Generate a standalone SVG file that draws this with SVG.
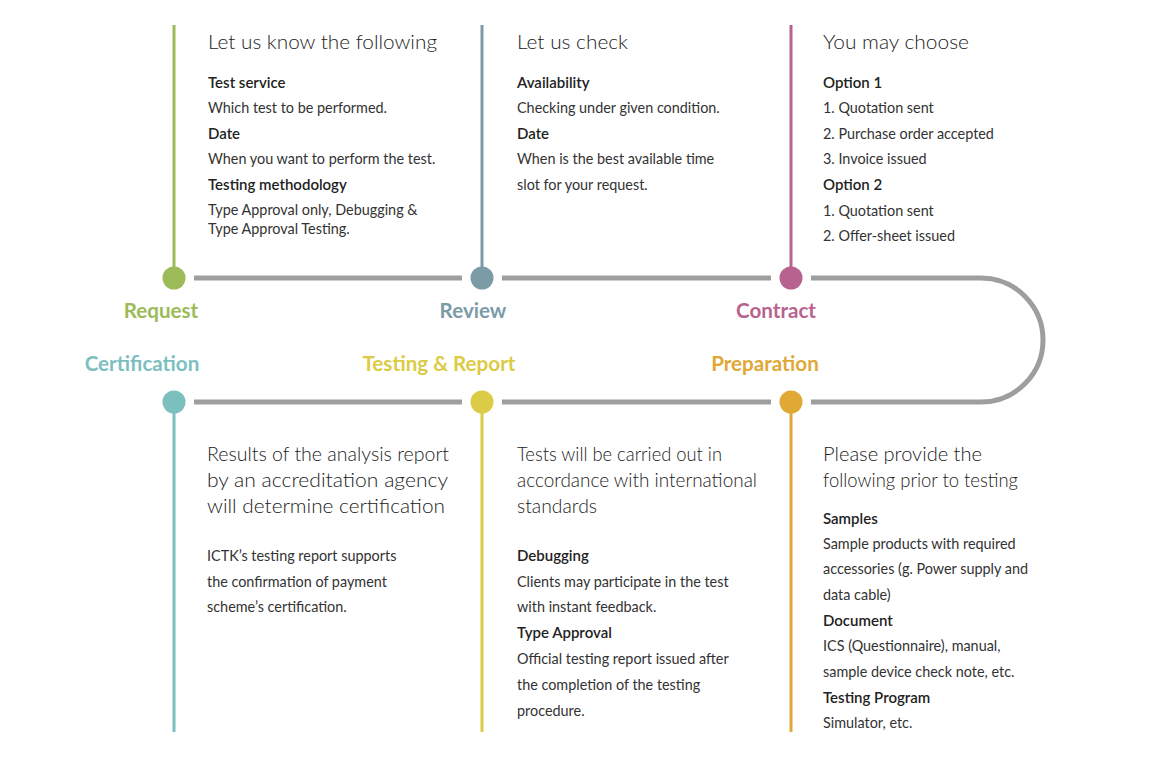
<svg xmlns="http://www.w3.org/2000/svg" width="1149" height="762" viewBox="0 0 1149 762">
<style>
.t{font-family:Lato,"Liberation Sans",sans-serif;font-size:20.5px;font-weight:300;fill:#222}
.h{font-family:Lato,"Liberation Sans",sans-serif;font-size:15px;font-weight:600;fill:#222}
.b{font-family:Lato,"Liberation Sans",sans-serif;font-size:14.4px;font-weight:400;fill:#333}
.lab{font-family:Lato,"Liberation Sans",sans-serif;font-size:20.6px;font-weight:700;text-anchor:middle}
.track{fill:none;stroke:#9e9e9e;stroke-width:5}
.v{stroke-width:3}
</style>
<rect width="1149" height="762" fill="#fff"/>
<g id="connectors">
<line class="track" x1="194" y1="278" x2="462" y2="278"/>
<line class="track" x1="502" y1="278" x2="771" y2="278"/>
<path class="track" d="M811 278 H981 A62 62 0 0 1 981 402 H811"/>
<line class="track" x1="502" y1="402" x2="771" y2="402"/>
<line class="track" x1="194" y1="402" x2="462" y2="402"/>
</g>
<g id="request">
<line class="v" x1="174" y1="25" x2="174" y2="270" stroke="#9bbb59"/>
<circle cx="174" cy="278" r="11.5" fill="#9bbb59"/>
<text class="lab" x="161" y="318" fill="#9bbb59">Request</text>
<text class="t" x="208" y="49" textLength="229" lengthAdjust="spacingAndGlyphs">Let us know the following</text>
<text class="h" x="208" y="88">Test service</text>
<text class="b" x="208" y="113">Which test to be performed.</text>
<text class="h" x="208" y="139">Date</text>
<text class="b" x="208" y="164">When you want to perform the test.</text>
<text class="h" x="208" y="190">Testing methodology</text>
<text class="b" x="208" y="215">Type Approval only, Debugging &amp;</text>
<text class="b" x="208" y="234">Type Approval Testing.</text>
</g>
<g id="review">
<line class="v" x1="482" y1="25" x2="482" y2="270" stroke="#7b9ba7"/>
<circle cx="482" cy="278" r="11.5" fill="#7b9ba7"/>
<text class="lab" x="473" y="318" fill="#7b9ba7">Review</text>
<text class="t" x="517" y="49" textLength="111" lengthAdjust="spacingAndGlyphs">Let us check</text>
<text class="h" x="517" y="88">Availability</text>
<text class="b" x="517" y="113">Checking under given condition.</text>
<text class="h" x="517" y="139">Date</text>
<text class="b" x="517" y="164">When is the best available time</text>
<text class="b" x="517" y="190">slot for your request.</text>
</g>
<g id="contract">
<line class="v" x1="791" y1="25" x2="791" y2="270" stroke="#b8628e"/>
<circle cx="791" cy="278" r="11.5" fill="#b8628e"/>
<text class="lab" x="776" y="318" fill="#b8628e">Contract</text>
<text class="t" x="823" y="49" textLength="146" lengthAdjust="spacingAndGlyphs">You may choose</text>
<text class="h" x="823" y="88">Option 1</text>
<text class="b" x="823" y="113">1. Quotation sent</text>
<text class="b" x="823" y="139">2. Purchase order accepted</text>
<text class="b" x="823" y="164">3. Invoice issued</text>
<text class="h" x="823" y="190">Option 2</text>
<text class="b" x="823" y="216">1. Quotation sent</text>
<text class="b" x="823" y="241">2. Offer-sheet issued</text>
</g>
<g id="preparation">
<circle cx="791" cy="402" r="11.5" fill="#e0a834"/>
<line class="v" x1="791" y1="410" x2="791" y2="732" stroke="#e0a834"/>
<text class="lab" x="765" y="371" fill="#e0a834">Preparation</text>
<text class="t" x="823" y="461" textLength="159" lengthAdjust="spacingAndGlyphs">Please provide the</text>
<text class="t" x="823" y="487" textLength="195" lengthAdjust="spacingAndGlyphs">following prior to testing</text>
<text class="h" x="823" y="524">Samples</text>
<text class="b" x="823" y="549">Sample products with required</text>
<text class="b" x="823" y="574">accessories (g. Power supply and</text>
<text class="b" x="823" y="600">data cable)</text>
<text class="h" x="823" y="626">Document</text>
<text class="b" x="823" y="651">ICS (Questionnaire), manual,</text>
<text class="b" x="823" y="677">sample device check note, etc.</text>
<text class="h" x="823" y="703">Testing Program</text>
<text class="b" x="823" y="728">Simulator, etc.</text>
</g>
<g id="testing-report">
<circle cx="482" cy="402" r="11.5" fill="#dccb45"/>
<line class="v" x1="482" y1="410" x2="482" y2="732" stroke="#dccb45"/>
<text class="lab" x="439" y="371" fill="#dccb45">Testing &amp; Report</text>
<text class="t" x="517" y="461" textLength="205" lengthAdjust="spacingAndGlyphs">Tests will be carried out in</text>
<text class="t" x="517" y="487" textLength="240" lengthAdjust="spacingAndGlyphs">accordance with international</text>
<text class="t" x="517" y="513" textLength="80" lengthAdjust="spacingAndGlyphs">standards</text>
<text class="h" x="517" y="561">Debugging</text>
<text class="b" x="517" y="587">Clients may participate in the test</text>
<text class="b" x="517" y="612">with instant feedback.</text>
<text class="h" x="517" y="638">Type Approval</text>
<text class="b" x="517" y="664">Official testing report issued after</text>
<text class="b" x="517" y="690">the completion of the testing</text>
<text class="b" x="517" y="716">procedure.</text>
</g>
<g id="certification">
<circle cx="174" cy="402" r="11.5" fill="#7bbfbf"/>
<line class="v" x1="174" y1="410" x2="174" y2="732" stroke="#7bbfbf"/>
<text class="lab" x="142" y="371" fill="#7bbfbf">Certification</text>
<text class="t" x="207" y="461" textLength="242" lengthAdjust="spacingAndGlyphs">Results of the analysis report</text>
<text class="t" x="207" y="487" textLength="241" lengthAdjust="spacingAndGlyphs">by an accreditation agency</text>
<text class="t" x="207" y="513" textLength="238" lengthAdjust="spacingAndGlyphs">will determine certification</text>
<text class="b" x="207" y="561">ICTK’s testing report supports</text>
<text class="b" x="207" y="587">the confirmation of payment</text>
<text class="b" x="207" y="612">scheme’s certification.</text>
</g>
</svg>
